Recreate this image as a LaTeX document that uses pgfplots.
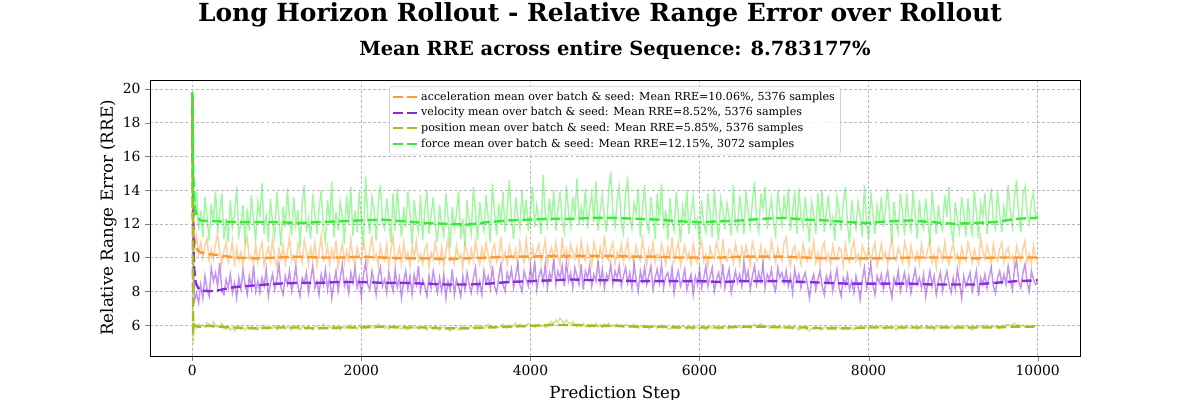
\documentclass[border=0pt]{standalone}
\usepackage{fontspec}
\setmainfont{DejaVu Serif}
\usepackage{pgfplots}
\usepackage{pgfplotstable}
\pgfplotsset{compat=1.18}

\definecolor{cacc}{HTML}{FF9A2E}
\definecolor{cvel}{HTML}{8A2BE2}
\definecolor{cpos}{HTML}{AABB22}
\definecolor{cfor}{HTML}{33EE33}

\pgfplotstableread{
x acc vel pos for
0 19.75 19.55 19.40 19.80
5 16.50 15.80 9.50 17.20
10 13.40 11.90 4.90 15.20
15 11.80 9.80 5.40 14.00
20 11.00 8.60 5.90 13.10
25 10.60 7.40 6.10 12.90
50 11.30 7.90 5.80 13.90
75 10.20 7.30 6.05 11.60
100 10.90 8.40 5.95 12.80
125 10.00 7.60 6.00 11.20
150 10.70 8.90 5.85 13.60
175 11.10 8.10 6.15 12.40
200 9.80 7.70 6.05 11.00
225 10.50 9.40 5.90 13.20
250 9.90 8.60 6.20 12.10
275 10.80 9.10 6.00 14.00
300 11.40 8.30 5.85 11.50
325 10.30 9.70 5.95 12.70
350 9.60 8.00 6.10 13.80
375 10.40 7.80 5.80 11.10
400 10.90 8.70 5.75 12.30
425 9.70 8.20 5.90 10.90
450 10.20 9.00 5.70 13.40
475 11.00 7.90 5.85 11.80
500 9.50 8.50 5.65 12.60
525 10.60 7.60 5.80 14.20
550 9.80 8.80 5.95 11.30
575 10.30 8.10 5.75 12.00
600 9.40 9.20 5.85 13.10
625 10.70 8.40 5.70 10.80
650 11.20 7.80 5.90 12.90
675 9.90 8.90 5.80 11.60
700 10.10 8.20 5.95 13.70
725 9.60 9.50 5.75 12.20
750 10.80 8.00 5.85 11.00
775 9.70 8.60 5.70 13.30
800 10.40 7.90 5.90 12.50
825 10.90 8.80 5.80 14.40
850 9.50 8.30 6.00 11.40
875 10.20 9.30 5.85 12.60
900 10.60 7.70 5.75 10.90
925 9.80 8.50 5.90 13.50
950 11.10 9.00 5.80 12.00
975 10.00 8.10 5.95 11.20
1000 9.40 8.70 5.70 13.90
1025 10.50 9.60 5.85 12.40
1050 9.90 8.20 5.80 10.70
1075 10.70 7.80 5.95 13.00
1100 9.60 8.90 5.75 11.80
1125 10.30 8.40 5.90 14.10
1150 11.20 9.20 5.80 12.20
1175 9.80 8.00 5.70 11.30
1200 10.10 8.60 5.85 13.60
1225 9.50 9.40 5.95 11.90
1250 10.80 8.30 5.80 12.80
1275 10.20 7.70 5.70 10.60
1300 9.70 8.80 5.90 13.20
1325 11.00 8.50 5.85 14.30
1350 10.40 9.10 5.75 11.50
1375 9.60 7.90 5.95 12.30
1400 10.60 8.70 5.80 11.10
1425 9.90 9.50 5.70 13.80
1450 10.90 8.20 5.85 12.60
1475 9.50 8.60 5.95 11.40
1500 10.30 7.80 5.80 12.90
1525 11.30 9.00 5.90 14.00
1550 9.80 8.40 6.05 11.70
1575 10.00 9.30 5.85 10.90
1600 10.70 8.10 5.75 13.40
1625 9.60 8.90 5.90 12.10
1650 10.50 7.60 5.80 14.50
1675 9.90 8.50 5.95 11.20
1700 11.00 9.20 5.75 12.70
1725 9.40 8.00 5.85 11.60
1750 10.20 8.80 5.70 13.30
1775 10.80 9.60 5.90 12.40
1800 9.70 8.30 5.80 10.80
1825 10.40 8.70 5.95 13.70
1850 9.80 7.90 5.85 12.00
1875 11.10 9.10 6.00 14.20
1900 10.00 8.50 5.80 11.30
1925 9.50 9.40 5.90 12.80
1950 10.60 8.20 5.75 11.50
1975 10.10 8.80 5.95 13.90
2000 9.70 7.70 5.85 12.20
2025 10.90 9.00 5.90 10.70
2050 10.30 9.70 5.80 14.80
2075 9.60 8.40 6.00 12.50
2100 10.50 8.10 5.85 11.40
2125 11.20 9.20 5.95 13.60
2150 9.90 8.60 5.80 12.90
2175 10.20 7.80 5.90 11.00
2200 9.50 8.90 6.05 13.20
2225 10.70 9.40 5.85 14.30
2250 10.00 8.30 5.95 12.10
2275 9.80 8.70 5.80 11.70
2300 10.80 7.90 5.90 13.50
2325 9.40 9.10 5.75 12.30
2350 10.40 8.50 5.85 10.90
2375 11.30 8.00 5.95 13.80
2400 9.70 9.30 5.80 11.60
2425 10.10 8.20 5.90 14.10
2450 10.60 8.80 5.85 12.40
2475 9.60 7.60 5.75 11.20
2500 10.90 8.60 5.95 13.00
2525 9.90 9.20 5.80 11.80
2550 10.30 8.10 5.70 13.90
2575 9.50 8.90 5.85 12.60
2600 10.70 7.80 5.95 10.80
2625 10.00 9.00 5.80 13.40
2650 11.00 8.40 5.90 12.20
2675 9.80 9.50 5.75 11.50
2700 10.20 8.00 5.85 13.70
2725 9.60 8.70 5.95 11.00
2750 10.50 8.30 5.80 12.80
2775 10.80 7.70 5.70 14.00
2800 9.40 8.90 5.90 11.40
2825 10.30 8.20 5.85 12.50
2850 9.90 9.20 5.75 13.60
2875 10.90 8.50 5.95 11.80
2900 10.10 7.90 5.80 10.90
2925 9.70 8.80 5.70 13.10
2950 10.60 8.00 5.85 12.00
2975 9.50 9.00 5.90 11.30
3000 10.40 7.60 5.80 13.80
3025 11.10 8.60 5.75 12.40
3050 9.80 8.10 5.65 10.60
3075 10.00 9.30 5.85 13.00
3100 9.60 7.80 5.80 11.70
3125 10.70 8.70 5.90 12.60
3150 9.90 8.30 5.70 13.90
3175 10.20 7.70 5.80 11.10
3200 9.40 8.90 5.95 12.30
3225 10.80 8.10 5.85 10.70
3250 10.30 9.10 5.75 13.40
3275 9.70 8.40 5.85 12.10
3300 10.50 7.90 5.95 11.40
3325 9.80 8.80 5.80 14.20
3350 11.00 9.40 5.90 12.70
3375 10.10 8.00 6.00 11.00
3400 9.60 8.60 5.85 13.30
3425 10.60 7.80 5.95 12.20
3450 9.90 9.20 5.80 11.60
3475 10.90 8.50 5.90 13.70
3500 10.20 8.90 6.05 12.40
3525 9.50 8.20 5.85 10.90
3550 10.40 9.50 5.95 14.40
3575 10.80 8.30 5.80 12.60
3600 9.70 7.90 5.90 11.30
3625 10.00 8.80 5.85 13.20
3650 11.20 9.60 5.95 12.00
3675 9.80 8.40 6.05 13.90
3700 10.30 8.00 5.90 11.50
3725 9.60 9.10 5.80 12.80
3750 10.70 8.60 6.00 14.60
3775 10.10 9.30 5.85 12.30
3800 9.90 8.20 5.95 11.10
3825 10.50 8.90 6.10 13.60
3850 9.40 9.60 5.90 12.50
3875 10.90 8.40 6.05 11.70
3900 10.20 8.00 5.95 14.00
3925 9.70 9.20 5.85 12.20
3950 11.10 8.70 6.00 13.40
3975 10.00 8.30 6.10 11.60
4000 9.60 9.40 5.90 12.70
4025 10.60 8.60 6.00 14.20
4050 9.90 9.80 5.85 11.80
4075 10.40 8.10 5.95 13.10
4100 10.80 8.90 6.05 12.30
4125 9.70 9.30 5.90 11.40
4150 10.30 8.50 6.00 14.90
4175 11.00 9.60 5.85 12.60
4200 9.50 8.20 5.95 11.90
4225 10.20 9.10 6.10 13.50
4250 10.60 8.70 6.20 12.10
4275 9.80 9.90 6.05 14.00
4300 10.90 8.40 6.30 11.60
4325 10.10 9.20 6.15 12.80
4350 9.60 8.80 6.40 13.90
4375 11.20 9.50 6.25 12.20
4400 10.00 8.30 6.10 11.50
4425 10.50 9.70 6.30 14.30
4450 9.70 8.60 6.15 12.70
4475 10.80 9.10 6.00 11.80
4500 10.30 8.20 6.20 13.60
4525 9.90 9.40 6.05 12.40
4550 10.60 8.90 5.90 14.70
4575 9.60 8.40 6.05 11.90
4600 11.00 9.60 5.95 13.00
4625 10.20 8.10 6.10 12.30
4650 9.80 9.20 5.90 14.10
4675 10.70 8.80 6.00 11.70
4700 10.00 9.50 5.85 12.90
4725 9.50 8.30 6.05 13.80
4750 10.90 9.00 5.95 12.10
4775 10.40 8.60 6.10 14.50
4800 9.70 9.80 5.90 11.60
4825 10.60 8.50 6.00 12.80
4850 9.90 9.30 5.85 13.70
4875 11.30 8.20 6.05 12.40
4900 10.10 9.00 5.95 11.50
4925 9.80 8.70 6.10 14.00
4950 10.50 9.60 5.90 15.10
4975 10.90 8.40 6.00 12.60
5000 9.60 9.20 5.95 11.80
5025 10.30 8.80 6.05 13.40
5050 10.00 9.50 5.90 14.20
5075 10.80 8.30 6.00 12.00
5100 9.70 8.90 5.85 11.40
5125 10.40 9.40 6.05 13.90
5150 11.00 8.50 5.95 14.60
5175 9.90 9.10 5.85 12.30
5200 10.20 8.20 5.95 11.70
5225 9.60 9.60 6.05 13.20
5250 10.70 8.70 5.90 12.60
5275 10.10 8.00 5.80 14.10
5300 9.80 9.20 5.95 11.20
5325 11.10 8.60 5.85 12.90
5350 10.30 9.40 6.00 14.30
5375 9.50 8.40 5.90 12.00
5400 10.50 8.90 5.75 11.50
5425 10.00 9.50 5.90 13.60
5450 10.90 8.10 5.85 12.40
5475 9.70 8.80 5.95 11.10
5500 10.20 9.30 5.80 13.80
5525 9.90 8.50 5.90 12.20
5550 10.80 9.60 6.00 14.40
5575 10.30 8.20 5.85 11.70
5600 9.60 8.90 5.95 12.80
5625 10.60 9.10 5.80 11.00
5650 10.00 8.40 5.75 13.50
5675 11.20 9.40 5.90 12.10
5700 9.80 7.90 5.85 11.60
5725 10.40 8.80 5.95 13.90
5750 10.90 9.20 5.80 12.50
5775 9.50 8.30 5.90 10.90
5800 10.10 8.70 5.95 13.00
5825 10.70 9.30 5.85 12.20
5850 9.90 8.10 5.75 14.00
5875 10.30 8.60 5.90 11.40
5900 9.60 9.00 5.80 12.70
5925 10.80 7.80 5.75 13.60
5950 10.00 8.90 5.90 11.80
5975 9.70 8.40 5.85 12.30
6000 10.50 9.30 5.80 10.80
6025 11.00 8.20 5.95 13.40
6050 9.80 8.80 5.85 12.00
6075 10.20 9.50 5.70 11.50
6100 9.50 8.30 5.85 13.80
6125 10.60 8.90 5.95 12.60
6150 10.10 9.40 5.80 11.20
6175 9.90 8.00 5.90 14.10
6200 10.90 8.70 5.85 12.30
6225 10.40 9.10 5.75 11.00
6250 9.60 8.40 5.90 13.50
6275 11.10 9.60 5.80 12.80
6300 10.00 8.20 5.95 11.70
6325 9.80 8.80 5.85 13.20
6350 10.50 9.30 5.75 12.40
6375 10.30 7.90 5.90 11.30
6400 9.70 8.60 5.80 14.30
6425 10.80 9.20 5.95 12.00
6450 10.20 8.50 5.85 11.60
6475 9.60 9.00 5.90 13.70
6500 10.60 8.30 5.80 12.50
6525 9.90 9.70 5.95 11.40
6550 10.70 8.70 5.85 14.00
6575 10.10 9.20 5.90 12.70
6600 9.50 8.10 5.80 11.80
6625 10.90 8.90 5.95 13.30
6650 10.40 9.50 6.05 14.50
6675 9.80 8.40 5.90 12.20
6700 10.00 9.10 6.00 11.50
6725 10.70 8.60 6.10 13.80
6750 9.60 9.60 5.95 12.90
6775 10.50 8.20 5.85 14.20
6800 10.20 9.00 5.95 11.70
6825 9.90 8.70 5.80 12.60
6850 11.00 9.30 5.90 13.50
6875 10.30 8.40 6.00 12.10
6900 9.70 8.00 5.90 11.30
6925 10.60 9.40 5.85 14.00
6950 10.10 8.80 5.95 12.80
6975 9.80 9.10 5.80 11.90
7000 10.90 8.50 5.90 13.70
7025 11.20 9.20 5.85 12.30
7050 10.00 8.30 5.95 14.10
7075 9.50 8.90 5.85 11.60
7100 10.40 7.90 5.75 12.70
7125 10.70 9.30 5.90 13.90
7150 9.90 8.60 5.80 11.40
7175 10.30 9.00 5.70 14.10
7200 9.60 8.20 5.85 12.40
7225 10.80 8.80 5.95 11.80
7250 10.10 9.10 5.80 13.60
7275 9.80 8.40 5.70 12.20
7300 10.50 7.60 5.65 10.90
7325 10.00 8.60 5.80 13.30
7350 11.00 9.00 5.75 12.60
7375 9.70 8.10 5.90 11.40
7400 10.30 8.70 5.85 13.80
7425 9.50 9.20 5.75 12.10
7450 10.60 8.30 5.70 14.00
7475 10.90 7.80 5.85 11.50
7500 9.80 8.90 5.90 12.70
7525 10.20 8.50 5.80 13.70
7550 9.60 9.10 5.85 11.90
7575 10.70 8.00 5.95 12.40
7600 10.10 8.60 5.80 11.00
7625 9.90 9.30 5.90 13.60
7650 10.60 8.20 5.85 12.80
7675 10.40 7.70 5.75 11.60
7700 9.50 8.80 5.85 13.20
7725 10.80 8.40 5.90 14.20
7750 10.00 9.00 5.80 12.00
7775 9.70 8.10 5.75 10.80
7800 10.50 8.60 5.85 13.40
7825 11.00 7.90 5.70 12.30
7850 9.80 8.90 5.80 11.70
7875 10.20 8.30 5.90 13.30
7900 9.60 7.50 5.85 12.50
7925 10.70 8.70 5.95 11.20
7950 10.30 9.40 5.80 14.30
7975 9.90 8.20 5.90 12.10
8000 10.60 8.80 5.80 11.00
8025 9.70 9.60 5.95 13.90
8050 10.40 8.40 6.00 12.60
8075 10.90 7.80 5.85 11.40
8100 9.50 8.90 5.90 13.10
8125 10.10 8.50 5.95 12.20
8150 10.80 9.00 5.85 13.60
8175 9.90 8.10 5.80 11.80
8200 10.30 8.70 5.75 12.90
8225 9.60 9.20 5.90 14.10
8250 10.50 8.30 5.85 12.40
8275 11.10 7.60 5.80 10.90
8300 10.00 8.80 5.90 13.30
8325 9.80 8.40 5.70 12.00
8350 10.60 9.20 5.85 11.50
8375 10.20 8.00 5.95 13.80
8400 9.70 8.60 5.80 12.70
8425 10.90 9.10 5.90 11.30
8450 10.40 8.20 5.95 13.80
8475 9.50 8.90 5.85 12.20
8500 10.70 7.90 5.80 11.60
8525 10.00 8.70 5.90 14.00
8550 9.80 9.30 5.85 12.50
8575 10.30 8.40 5.75 11.10
8600 9.60 8.80 5.85 13.40
8625 10.80 8.20 5.95 12.10
8650 10.10 9.00 5.80 11.70
8675 9.90 7.70 5.90 13.50
8700 10.50 8.50 5.95 12.30
8725 11.00 9.20 5.80 10.80
8750 9.70 8.30 5.85 13.90
8775 10.20 8.90 5.70 12.60
8800 9.40 7.80 5.85 11.40
8825 10.60 8.60 5.95 13.10
8850 10.30 9.10 5.80 12.00
8875 9.80 8.00 5.90 11.60
8900 10.90 8.70 5.95 13.70
8925 10.00 9.20 5.85 12.40
8950 9.60 8.40 5.80 14.20
8975 10.40 7.90 5.90 11.80
9000 10.80 8.80 5.85 10.90
9025 9.90 8.10 5.75 13.30
9050 10.20 9.30 5.85 12.20
9075 9.50 8.50 5.95 11.50
9100 10.60 7.60 5.85 13.60
9125 10.10 8.90 5.80 12.70
9150 9.80 8.30 5.95 11.20
9175 10.90 8.70 5.85 13.50
9200 10.30 9.10 5.80 12.00
9225 9.70 8.00 5.70 11.40
9250 10.50 8.60 5.85 14.00
9275 10.00 9.20 5.90 12.60
9300 9.60 7.70 5.85 11.10
9325 11.20 8.80 5.95 13.20
9350 10.40 8.40 5.85 12.40
9375 9.90 9.00 6.00 13.80
9400 10.70 8.20 5.90 11.40
9425 10.20 8.90 5.85 12.90
9450 9.60 9.40 5.95 14.10
9475 10.80 8.30 5.85 12.20
9500 10.00 7.90 5.95 11.70
9525 9.80 8.80 5.85 13.90
9550 10.50 9.20 5.80 12.60
9575 10.90 8.50 5.95 11.50
9600 9.70 9.00 5.90 13.00
9625 10.30 8.40 6.00 12.10
9650 10.60 9.50 6.05 14.30
9675 9.90 8.70 5.95 12.70
9700 10.10 8.10 6.00 11.80
9725 9.50 9.30 6.10 13.60
9750 10.70 9.80 5.95 14.60
9775 10.20 8.60 6.05 12.40
9800 9.80 8.20 5.90 11.50
9825 10.50 9.10 6.00 13.70
9850 11.00 9.60 5.95 14.20
9875 9.70 8.50 5.90 12.60
9900 10.20 8.00 5.85 12.00
9925 9.60 9.20 5.95 13.30
9950 10.70 8.70 5.90 13.80
9975 10.00 8.40 5.95 12.30
10000 9.60 8.50 5.90 12.60
}\rawdata

\pgfplotstableread{
x acc vel pos for
0 19.75 19.55 19.40 19.80
10 13.00 12.00 5.50 15.50
20 11.20 9.50 6.00 13.50
40 10.60 8.50 5.95 12.70
70 10.40 8.20 5.90 12.30
100 10.30 8.05 5.90 12.20
200 10.20 8.00 5.95 12.15
300 10.15 8.05 5.90 12.15
500 10.00 8.25 5.85 12.10
750 9.95 8.35 5.80 12.10
1000 10.00 8.45 5.85 12.10
1250 10.05 8.50 5.85 12.05
1500 10.00 8.50 5.80 12.10
1750 10.00 8.55 5.85 12.15
2000 10.05 8.55 5.85 12.20
2250 10.00 8.50 5.90 12.25
2500 9.95 8.50 5.85 12.15
2750 9.95 8.45 5.85 12.05
3000 9.90 8.40 5.80 12.00
3250 9.95 8.40 5.80 11.95
3500 10.00 8.45 5.85 12.10
3750 10.05 8.55 5.90 12.20
4000 10.05 8.60 5.95 12.25
4250 10.10 8.65 6.00 12.30
4500 10.10 8.70 6.00 12.30
4750 10.10 8.65 5.95 12.35
5000 10.10 8.65 5.95 12.35
5250 10.05 8.60 5.90 12.30
5500 10.05 8.60 5.90 12.25
5750 10.00 8.60 5.85 12.15
6000 10.00 8.60 5.85 12.10
6250 10.00 8.55 5.85 12.15
6500 10.05 8.60 5.90 12.20
6750 10.05 8.60 5.90 12.30
7000 10.05 8.60 5.85 12.35
7250 10.00 8.55 5.85 12.25
7500 9.95 8.50 5.80 12.20
7750 9.95 8.45 5.80 12.10
8000 9.95 8.45 5.85 12.05
8250 9.95 8.45 5.85 12.15
8500 10.00 8.45 5.85 12.20
8750 10.00 8.40 5.85 12.10
9000 10.00 8.40 5.85 12.00
9250 9.95 8.40 5.85 12.05
9500 10.00 8.50 5.85 12.10
9750 10.00 8.60 5.90 12.30
10000 10.00 8.65 5.90 12.35
}\meandata

\begin{document}
\begin{tikzpicture}
\begin{axis}[
  scale only axis,
  width=697.5pt, height=207pt,
  xmin=-500, xmax=10500,
  ymin=4.16, ymax=20.53,
  xtick={0,2000,4000,6000,8000,10000},
  ytick={6,8,10,12,14,16,18,20},
  /pgf/number format/assume math mode=true,
  scaled x ticks=false,
  xticklabel style={font=\fontsize{10.4}{12}\selectfont, /pgf/number format/1000 sep={}},
  yticklabel style={font=\fontsize{10.4}{12}\selectfont},
  tick align=outside,
  major tick length=3.6pt,
  tick pos=left,
  axis line style={line width=0.6pt},
  grid=major,
  major grid style={gray!55, line width=0.35pt, dash pattern=on 2.2pt off 1.6pt},
  xlabel={Prediction Step},
  ylabel={Relative Range Error (RRE)},
  label style={font=\fontsize{12.5}{14}\selectfont},
  xlabel style={at={(axis description cs:0.5,0)}, anchor=base, yshift=-31.5pt},
  ylabel style={at={(axis description cs:-0.0398,0.5)}, anchor=base},
  legend style={font=\fontsize{8.3}{10}\selectfont, draw=gray!35, rounded corners=2pt,
    fill=white, fill opacity=0.8, text opacity=1, draw opacity=1,
    at={(0.5,0.978)}, anchor=north, row sep=-0.5pt, inner sep=2pt,
    nodes={inner sep=2.2pt, anchor=west}},
  legend cell align=left,
  legend image code/.code={\draw[#1, line width=1.6pt, dash pattern=on 7.4pt off 3.2pt] (0pt,0pt) -- (18pt,0pt);},
]
\addplot[cacc, opacity=0.45, line width=1.1pt, forget plot] table[x=x, y=acc] {\rawdata};
\addplot[cacc, line width=1.8pt, dash pattern=on 7.4pt off 3.2pt] table[x=x, y=acc] {\meandata};
\addlegendentry{acceleration mean over batch \& seed: Mean RRE=10.06\%, 5376 samples}
\addplot[cvel, opacity=0.5, line width=1.1pt, forget plot] table[x=x, y=vel] {\rawdata};
\addplot[cvel, line width=1.8pt, dash pattern=on 7.4pt off 3.2pt] table[x=x, y=vel] {\meandata};
\addlegendentry{velocity mean over batch \& seed: Mean RRE=8.52\%, 5376 samples}
\addplot[cpos, opacity=0.45, line width=1.1pt, forget plot] table[x=x, y=pos] {\rawdata};
\addplot[cpos, line width=1.8pt, dash pattern=on 7.4pt off 3.2pt] table[x=x, y=pos] {\meandata};
\addlegendentry{position mean over batch \& seed: Mean RRE=5.85\%, 5376 samples}
\addplot[cfor, opacity=0.45, line width=1.1pt, forget plot] table[x=x, y=for] {\rawdata};
\addplot[cfor, line width=1.8pt, dash pattern=on 7.4pt off 3.2pt] table[x=x, y=for] {\meandata};
\addlegendentry{force mean over batch \& seed: Mean RRE=12.15\%, 3072 samples}
\end{axis}
\node[anchor=base, font=\fontsize{18.7}{22}\selectfont\bfseries] at (337.5pt,250.5pt) {Long Horizon Rollout - Relative Range Error over Rollout};
\node[anchor=base, font=\fontsize{14.6}{17}\selectfont\bfseries] at (348.75pt,225pt) {Mean RRE across entire Sequence: 8.783177\%};
\pgfresetboundingbox
\path (-112.5pt,-33pt) rectangle (787.5pt,267pt);
\end{tikzpicture}
\end{document}
